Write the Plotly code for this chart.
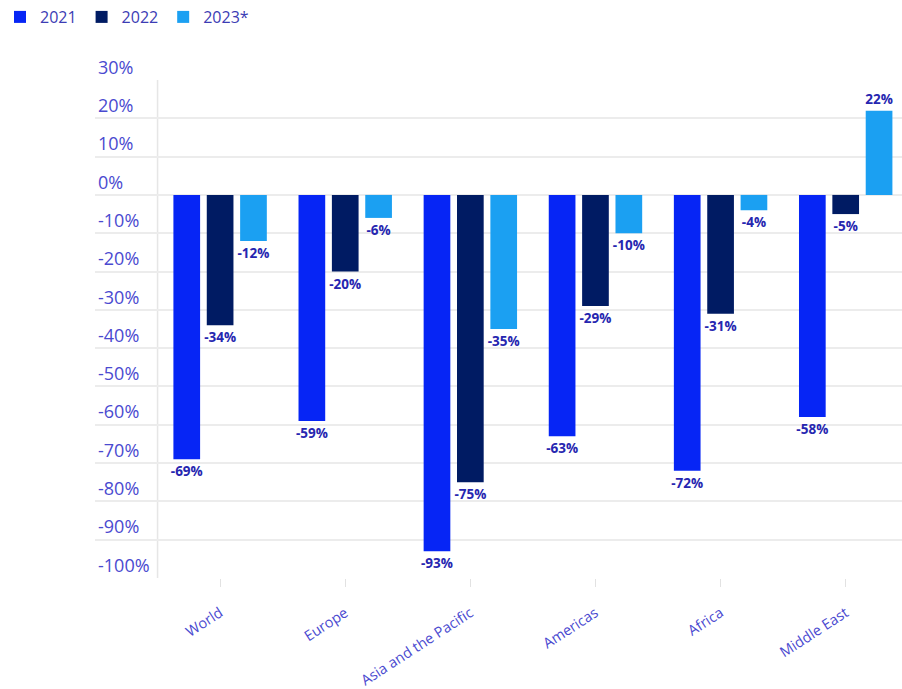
import plotly.graph_objects as go

regions = ["World", "Europe", "Asia and the Pacific", "Americas", "Africa", "Middle East"]
series_names = ["2021", "2022", "2023*"]
v2021 = [-69, -59, -93, -63, -72, -58]
v2022 = [-34, -20, -75, -29, -31, -5]
v2023 = [-12, -6, -35, -10, -4, 22]
colors = ["#0625f5", "#001b63", "#1ba0f2"]
y_ticks = [30, 20, 10, 0, -10, -20, -30, -40, -50, -60, -70, -80, -90, -100]

FONT = "Open Sans"
LABEL_C = "#2626b0"
TICK_C = "#4a4ad0"

fig = go.Figure()
for name, vals, col in zip(series_names, [v2021, v2022, v2023], colors):
    fig.add_trace(go.Bar(
        x=list(range(len(regions))), y=vals, name=name,
        marker=dict(color=col, line=dict(width=0)),
        text=[f"{v}%" for v in vals], textposition="outside",
        constraintext="none",
        textfont=dict(family=FONT, size=13.5, color=LABEL_C, weight="bold"),
        cliponaxis=False,
    ))

fig.add_shape(type="line", xref="x", yref="y domain", x0=-0.5, x1=-0.5, y0=0, y1=1,
              line=dict(color="#e6e6e6", width=1.5), layer="below")

fig.update_layout(
    width=902, height=689,
    margin=dict(l=95, r=0, t=80, b=111, autoexpand=False),
    paper_bgcolor="white", plot_bgcolor="white",
    barmode="group", bargap=0.2, bargroupgap=0.2,
    font=dict(family=FONT, color=TICK_C),
    showlegend=True,
    legend=dict(orientation="h", xref="container", yref="container",
                x=-0.008, y=1.0, xanchor="left", yanchor="top",
                font=dict(family=FONT, size=16, color="#3c3cb4"),
                itemwidth=30, traceorder="normal"),
    xaxis=dict(range=[-1.0, 5.45], tickmode="array", automargin=False,
               tickvals=list(range(len(regions))), ticktext=regions,
               tickangle=-33, ticks="outside", ticklen=8, tickcolor="#e2e2e2",
               tickfont=dict(family=FONT, size=14.5, color=TICK_C),
               ticklabelstandoff=12,
               showgrid=False, showline=False, zeroline=False),
    yaxis=dict(range=[-100, 30], tickmode="array", tickvals=y_ticks, automargin=False,
               ticktext=[f"{t}%" for t in y_ticks],
               ticklabelposition="inside top", ticklabeloverflow="allow",
               tickfont=dict(family=FONT, size=18, color=TICK_C),
               showgrid=True, gridcolor="#ececec", gridwidth=1.5,
               zeroline=False, showline=False),
)

fig.write_html("out.html", config={"displayModeBar": False},
               post_script="document.body.style.margin='0';document.body.style.overflow='hidden';")
